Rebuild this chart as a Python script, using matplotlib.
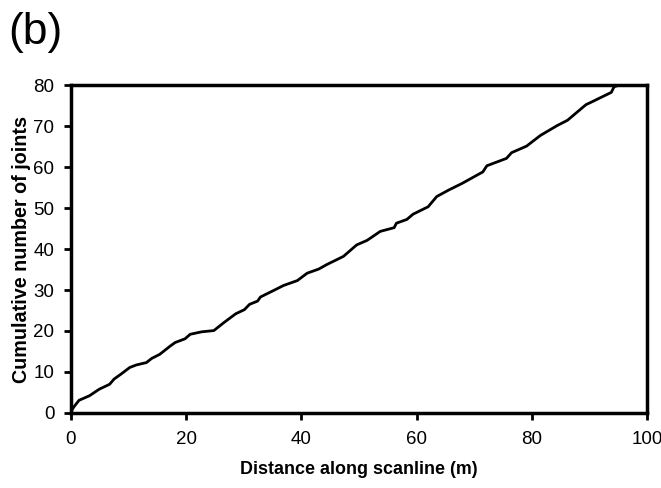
import matplotlib
matplotlib.use("Agg")
import matplotlib.pyplot as plt

plt.rcParams['font.family'] = ['Liberation Sans', 'DejaVu Sans']

# distance along scanline (m) and cumulative joint count
distance = [0.0, 0.5, 1.4, 3.2, 4.9, 6.7, 7.5, 8.7, 10.2, 11.3, 13.1, 14.0,
            15.4, 17.2, 18.1, 19.8, 20.7, 22.7, 24.8, 26.5, 28.6, 30.1, 31.0,
            32.4, 32.9, 35.2, 36.9, 39.3, 41.0, 43.0, 44.4, 47.3, 49.6, 51.4,
            53.7, 56.1, 56.5, 58.3, 59.4, 62.0, 63.5, 65.6, 67.9, 71.5, 72.2,
            75.6, 76.5, 79.1, 81.5, 84.4, 86.2, 89.4, 90.3, 93.8, 94.3, 95.3]
joints = [0.3, 1.5, 3.1, 4.2, 5.8, 7.0, 8.3, 9.5, 11.1, 11.7, 12.3, 13.3,
          14.3, 16.3, 17.2, 18.1, 19.2, 19.8, 20.1, 22.0, 24.2, 25.2, 26.5,
          27.3, 28.3, 29.9, 31.1, 32.3, 34.1, 35.1, 36.2, 38.2, 41.0, 42.1,
          44.3, 45.2, 46.3, 47.2, 48.5, 50.3, 52.8, 54.4, 56.0, 58.8, 60.3,
          62.1, 63.5, 65.1, 67.7, 70.1, 71.4, 75.2, 75.8, 78.2, 79.6, 80.0]

fig = plt.figure(figsize=(6.61, 4.88), dpi=100)
ax = fig.add_axes([0.1074, 0.1537, 0.8714, 0.6721])
ax.plot(distance, joints, color='black', lw=2,
        solid_capstyle='round', solid_joinstyle='round')

ax.set_xlim(0, 100)
ax.set_ylim(0, 80)
ax.set_xticks(range(0, 101, 20))
ax.set_yticks(range(0, 81, 10))
for s in ax.spines.values():
    s.set_linewidth(2.5)
ax.tick_params(direction='out', length=5, width=2, labelsize=13.5)
ax.tick_params(axis='x', pad=8)
ax.tick_params(axis='y', pad=7)

ax.set_xlabel('Distance along scanline (m)', fontsize=12.9, fontweight='bold', labelpad=9)
ax.set_ylabel('Cumulative number of joints', fontsize=14.2, fontweight='bold', labelpad=2)

fig.text(0.012, 0.975, '(b)', fontsize=32, va='top', ha='left')

fig.savefig('out.png', dpi=100)
